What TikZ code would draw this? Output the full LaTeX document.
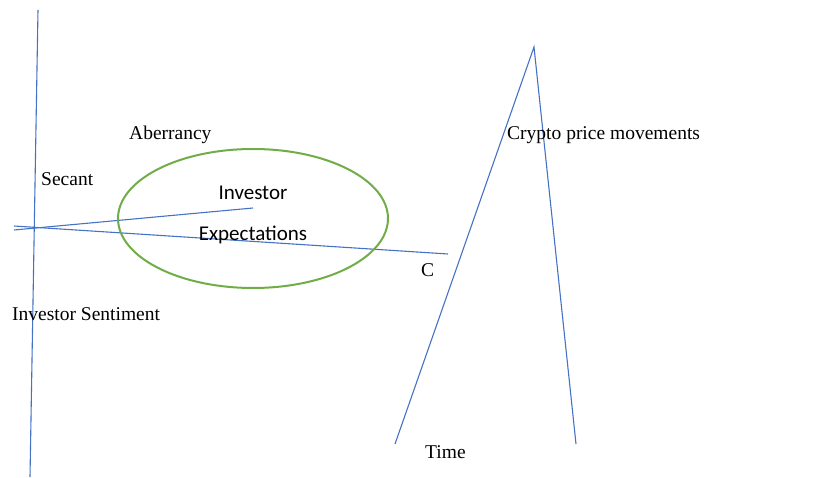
\documentclass[tikz,border=0pt]{standalone}
\usepackage{fontspec}
\setmainfont{Liberation Serif}
\newfontfamily\calib{Carlito}
\begin{document}
\begin{tikzpicture}[x=1pt,y=-1pt,
  blueline/.style={draw={rgb,255:red,68;green,114;blue,196}, line width=1.1pt},
  label/.style={inner sep=0pt, anchor=base west, font=\fontsize{19.5}{22}\selectfont},
  inlabel/.style={inner sep=0pt, anchor=base, font=\calib\fontsize{21}{24}\selectfont}]
\useasboundingbox (0,0) rectangle (828,478);
% axis and secant lines
\coordinate (vtop) at (38,10);
\coordinate (vbot) at (30,477);
\coordinate (s1a) at (14,230);
\coordinate (s1b) at (253,208);
\coordinate (s2a) at (14,226);
\coordinate (s2b) at (448,254);
\draw[blueline] (vtop) -- (vbot);
\draw[blueline] (s1a) -- (s1b);
\draw[blueline] (s2a) -- (s2b);
% expectations ellipse
\draw[draw={rgb,255:red,112;green,173;blue,71}, line width=2pt] (253,218.5) ellipse [x radius=135, y radius=69.5];
\node[inlabel] (inv) at (253,200) {Investor};
\node[inlabel] (exp) at (253,241) {Expectations};
% price peak
\coordinate (pl) at (395,444);
\coordinate (pk) at (534,47);
\coordinate (pr) at (576,444);
\draw[blueline] (pl) -- (pk) -- (pr);
% labels
\node[label] (aberr) at (129,140) {Aberrancy};
\node[label] (secant) at (41,186) {Secant};
\node[label] (sent) at (12,321) {Investor Sentiment};
\node[label] (crypto) at (507,140) {Crypto price movements};
\node[label] (c) at (421,277) {C};
\node[label] (time) at (425,458) {Time};
\end{tikzpicture}
\end{document}
